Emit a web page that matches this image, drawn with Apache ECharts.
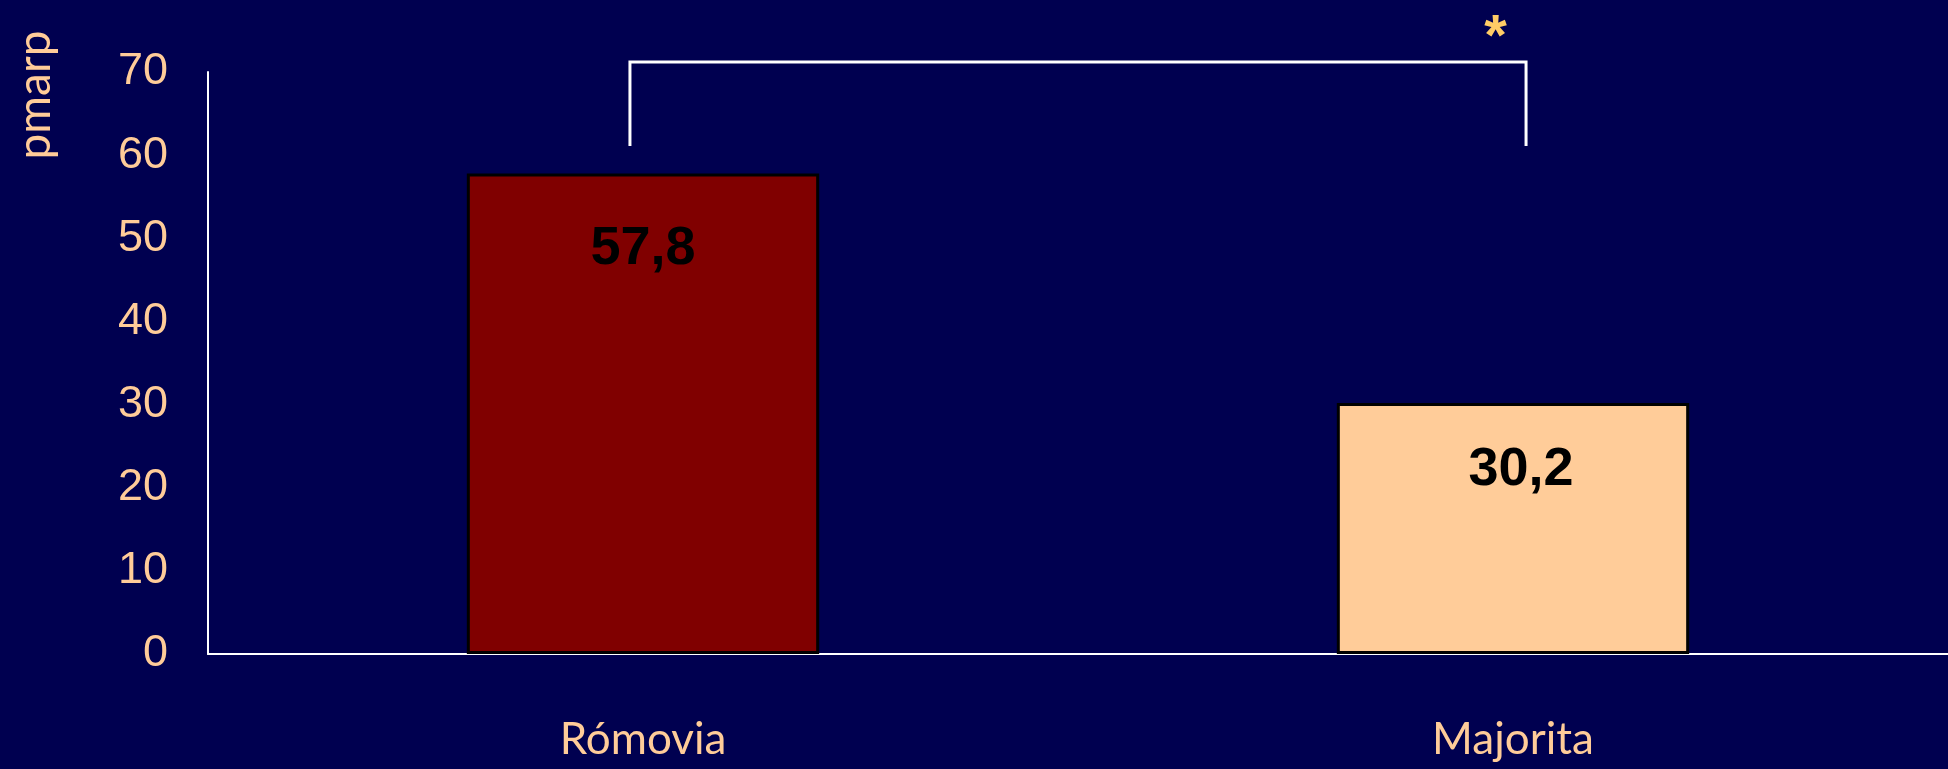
<!DOCTYPE html>
<html><head><meta charset="utf-8">
<script src="https://cdn.jsdelivr.net/npm/echarts@6/dist/echarts.min.js"></script>
<style>html,body{margin:0;padding:0;background:#000050;}#c{width:1948px;height:769px;}</style>
</head><body><div id="c"></div>
<script>
const categories = ['Rómovia', 'Majorita'];
const values = [57.8, 30.2];
const valueLabels = ['57,8', '30,2'];
const barColors = ['#800000', '#FFCC99'];
const yTickLabels = ['0', '10', '20', '30', '40', '50', '60', '70'];
const axisName = 'pmarp';
const significance = '*';
// bracket: vertical positions in value units, horizontal as category index (fractional)
const bracketTop = 71.2;
const bracketBottom = 61.1;
const bracketLeft = -0.015;
const bracketRight = 1.015;
const starX = 0.98;
const starValue = 74.0;

const chart = echarts.init(document.getElementById('c'));
const labelDist = [49, 40];
chart.setOption({
  backgroundColor: '#000050',
  animation: false,
  grid: { left: 208, right: 0, top: 72, bottom: 115 },
  xAxis: {
    type: 'category',
    data: categories,
    axisLine: { lineStyle: { color: '#ffffff', width: 2 } },
    axisTick: { show: false },
    axisLabel: { color: '#FFCC99', fontSize: 44, fontFamily: 'Comic Sans MS, Lato, sans-serif', margin: 64 }
  },
  yAxis: {
    type: 'value',
    min: 0, max: 70, interval: 10,
    axisLine: { show: true, lineStyle: { color: '#ffffff', width: 2 } },
    axisTick: { show: false },
    splitLine: { show: false },
    axisLabel: {
      color: '#FFCC99', fontSize: 45, fontFamily: 'Liberation Sans, Arial, sans-serif', margin: 40,
      padding: [10, 0, 0, 0],
      formatter: v => yTickLabels[Math.round(v / 10)]
    }
  },
  graphic: [{
    type: 'text', x: 35, y: 95, rotation: Math.PI / 2,
    style: { text: axisName, fill: '#FFCC99', font: '46px "Comic Sans MS", Lato, sans-serif', align: 'center', verticalAlign: 'middle' }
  }],
  series: [{
    type: 'bar',
    barWidth: '40.5%',
    data: values.map((v, i) => ({
      value: v,
      itemStyle: { color: barColors[i], borderColor: '#000000', borderWidth: 3 },
      label: {
        show: true, position: 'insideTop', distance: labelDist[i],
        formatter: valueLabels[i], color: '#000000', fontSize: 54, fontWeight: 'bold',
        fontFamily: 'Liberation Sans, Arial, sans-serif', offset: [i === 1 ? 8 : 0, 0]
      }
    }))
  }, {
    type: 'custom',
    clip: false,
    silent: true,
    data: [[0]],
    renderItem: function (params, api) {
      const band = api.size([1, 0])[0];
      const c0 = api.coord([0, bracketTop]);
      const x0 = c0[0] + bracketLeft * band;
      const xr = c0[0] + bracketRight * band;
      const xs = c0[0] + starX * band;
      const yt = c0[1];
      const yb = api.coord([0, bracketBottom])[1];
      const ys = api.coord([0, starValue])[1];
      return {
        type: 'group',
        children: [{
          type: 'polyline',
          shape: { points: [[x0, yb], [x0, yt], [xr, yt], [xr, yb]] },
          style: { stroke: '#ffffff', lineWidth: 3, fill: null }
        }, {
          type: 'text',
          x: xs, y: ys,
          style: { text: significance, fill: '#FFCC66', font: 'bold 58px "Liberation Sans", sans-serif', align: 'center', verticalAlign: 'middle' }
        }]
      };
    }
  }]
});
</script></body></html>
